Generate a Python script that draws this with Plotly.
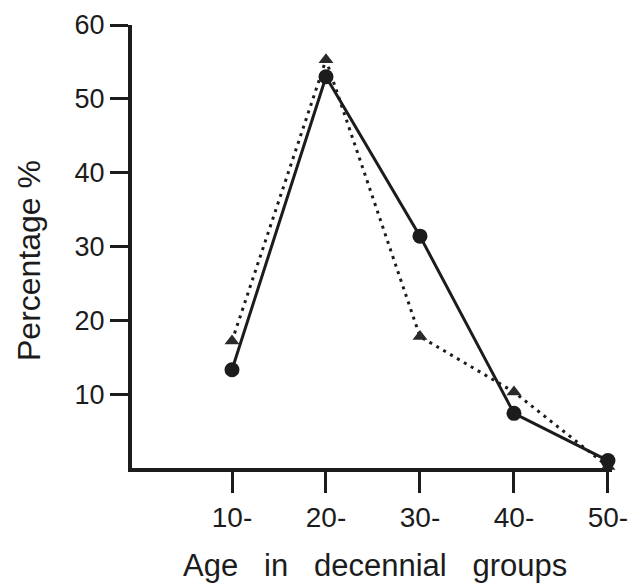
import plotly.graph_objects as go

categories = ["10-", "20-", "30-", "40-", "50-"]
solid_circles = [13.3, 53.0, 31.4, 7.4, 1.0]
dotted_triangles = [17.2, 55.3, 17.8, 10.3, 0.2]
y_ticks = [10, 20, 30, 40, 50, 60]

INK = "#1c1c1c"
FONT = "Liberation Sans"

fig = go.Figure()

fig.add_trace(go.Scatter(
    x=categories, y=dotted_triangles, mode="lines+markers",
    line=dict(color=INK, width=3, dash="3px,5px"),
    marker=dict(symbol="triangle-up", size=13, color="#2a2a2a"),
    cliponaxis=False, showlegend=False,
))
fig.add_trace(go.Scatter(
    x=categories, y=solid_circles, mode="lines+markers",
    line=dict(color=INK, width=3),
    marker=dict(symbol="circle", size=15, color=INK),
    cliponaxis=False, showlegend=False,
))

gap = "\u00a0" * 3
fig.update_layout(
    width=644, height=584,
    margin=dict(l=124, r=40, t=17, b=124, autoexpand=False),
    paper_bgcolor="white", plot_bgcolor="white",
    font=dict(family=FONT, color=INK, size=27),
    xaxis=dict(
        type="category", range=[-1.064, 4.043], automargin=False,
        showgrid=False, zeroline=False,
        showline=True, linecolor=INK, linewidth=4,
        ticks="outside", ticklen=21, tickwidth=3, tickcolor=INK,
        tickfont=dict(size=28, family=FONT, color=INK),
    ),
    yaxis=dict(
        range=[0, 60], tickvals=y_ticks, automargin=False,
        showgrid=False, zeroline=False,
        showline=True, linecolor=INK, linewidth=4,
        ticks="outside", ticklen=18, tickwidth=3, tickcolor=INK,
        tickfont=dict(size=27, family=FONT, color=INK),
    ),
    annotations=[
        dict(text="Age" + gap + "in" + gap + "decennial" + gap + "groups",
             xref="paper", yref="paper", x=0.506, y=-0.219,
             xanchor="center", yanchor="middle", showarrow=False,
             font=dict(size=31, family=FONT, color=INK)),
        dict(text="Percentage %", textangle=-90,
             xref="paper", yref="paper", x=-0.2146, y=0.4695,
             xanchor="center", yanchor="middle", showarrow=False,
             font=dict(size=32, family=FONT, color=INK)),
    ],
)

fig.write_html("out.html")
